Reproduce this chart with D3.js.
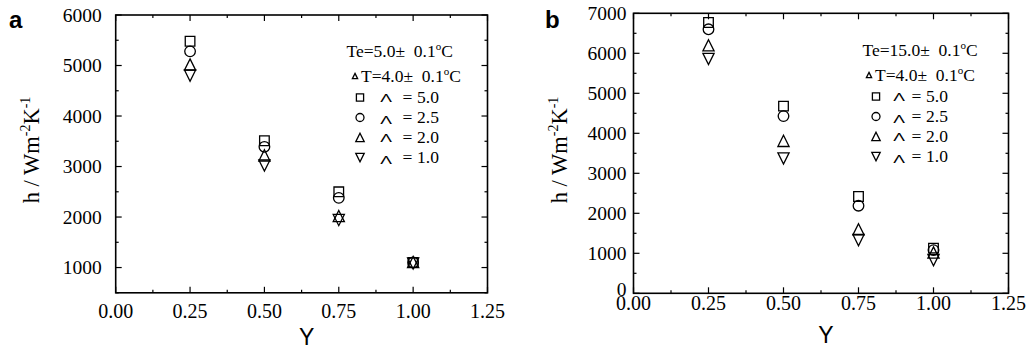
<!DOCTYPE html>
<html>
<head>
<meta charset="utf-8">
<script src="https://cdn.jsdelivr.net/npm/d3@7/dist/d3.min.js"></script>
<style>
  body { margin: 0; background: #fff; }
  svg { display: block; }
</style>
</head>
<body>
<div id="chart"></div>
<script>
// Y values (x axis)
const yPos = [0.25, 0.50, 0.75, 1.00];
const xTicks = [0, 0.25, 0.5, 0.75, 1.0, 1.25];

// panel a : Te = 5.0 C
const aSquare = [5480, 3510, 2500, 1100];
const aCircle = [5280, 3390, 2380, 1100];
const aUp = [5020, 3220, 2020, 1110];
const aDown = [4800, 3020, 1940, 1080];
const aTicks = [1000, 2000, 3000, 4000, 5000, 6000];

// panel b : Te = 15.0 C
const bSquare = [6770, 4680, 2420, 1130];
const bCircle = [6600, 4430, 2190, 1080];
const bUp = [6200, 3810, 1600, 1020];
const bDown = [5860, 3370, 1330, 830];
const bTicks = [0, 1000, 2000, 3000, 4000, 5000, 6000, 7000];

const legendVals = ['5.0', '2.5', '2.0', '1.0'];

const W = 1029, H = 350;
const svg = d3.select('#chart').append('svg')
  .attr('width', W)
  .attr('height', H);

const serif = 'Liberation Serif, Times New Roman, serif';
const sans = 'Liberation Sans, Arial, sans-serif';

function marker(g, type, cx, cy, s) {
  // s = half size
  let p;
  if (type === 'circle') {
    g.append('circle').attr('cx', cx).attr('cy', cy).attr('r', s)
      .attr('fill', 'none').attr('stroke', '#000').attr('stroke-width', 1.3);
    return;
  }
  if (type === 'square') {
    p = `M${cx - s},${cy - s}h${2 * s}v${2 * s}h${-2 * s}Z`;
  } else if (type === 'up') {
    p = `M${cx},${cy - s}L${cx + s},${cy + s}L${cx - s},${cy + s}Z`;
  } else {
    p = `M${cx - s},${cy - s}L${cx + s},${cy - s}L${cx},${cy + s}Z`;
  }
  g.append('path').attr('d', p)
    .attr('fill', 'none').attr('stroke', '#000').attr('stroke-width', 1.3);
}

function drawPanel(cfg) {
  const x = d3.scaleLinear().domain([0, 1.25]).range([cfg.left, cfg.right]);
  const y = d3.scaleLinear().domain(cfg.yDomain).range([cfg.bottom, cfg.top]);
  const g = svg.append('g');

  // frame
  g.append('rect')
    .attr('x', cfg.left).attr('y', cfg.top)
    .attr('width', cfg.right - cfg.left).attr('height', cfg.bottom - cfg.top)
    .attr('fill', 'none').attr('stroke', '#000').attr('stroke-width', 1.6);

  // ticks, inward on all sides
  const xMinor = d3.range(0, 1.25001, 0.125);
  xMinor.forEach((v, i) => {
    const len = i % 2 === 0 ? 6 : 3;
    g.append('line').attr('x1', x(v)).attr('x2', x(v))
      .attr('y1', cfg.bottom).attr('y2', cfg.bottom - len)
      .attr('stroke', '#000').attr('stroke-width', 1.2);
    g.append('line').attr('x1', x(v)).attr('x2', x(v))
      .attr('y1', cfg.top).attr('y2', cfg.top + len)
      .attr('stroke', '#000').attr('stroke-width', 1.2);
  });
  const yMinor = d3.range(cfg.yDomain[0], cfg.yDomain[1] + 1, 500);
  yMinor.forEach(v => {
    const len = v % 1000 === 0 ? 6 : 3;
    g.append('line').attr('x1', cfg.left).attr('x2', cfg.left + len)
      .attr('y1', y(v)).attr('y2', y(v))
      .attr('stroke', '#000').attr('stroke-width', 1.2);
    g.append('line').attr('x1', cfg.right).attr('x2', cfg.right - len)
      .attr('y1', y(v)).attr('y2', y(v))
      .attr('stroke', '#000').attr('stroke-width', 1.2);
  });

  // tick labels
  g.selectAll('.xt').data(xTicks).enter().append('text')
    .attr('x', d => x(d)).attr('y', cfg.xLabelBase)
    .attr('text-anchor', 'middle')
    .style('font-family', serif)
    .style('font-size', '20px')
    .text(d => d3.format('.2f')(d));
  g.selectAll('.yt').data(cfg.yTicks).enter().append('text')
    .attr('x', cfg.left - cfg.yLabelGap).attr('y', d => y(d) - (d === 0 ? 4 : 0))
    .attr('dy', '0.35em')
    .attr('text-anchor', 'end')
    .style('font-family', serif)
    .style('font-size', '19.5px')
    .text(d => d);

  // axis titles
  g.append('text')
    .attr('x', (cfg.left + cfg.right) / 2 + 5).attr('y', cfg.xTitleBase)
    .attr('text-anchor', 'middle')
    .style('font-family', sans)
    .style('font-size', '23px')
    .text('Y');

  const yt = g.append('text')
    .attr('transform', `translate(${cfg.yTitleX},${cfg.yTitleY}) rotate(-90)`)
    .attr('text-anchor', 'middle')
    .style('font-family', serif)
    .style('font-size', '22.5px');
  yt.append('tspan').text('h / Wm');
  yt.append('tspan').attr('dy', -9).style('font-size', '14px').text('-2');
  yt.append('tspan').attr('dy', 9).text('K');
  yt.append('tspan').attr('dy', -9).style('font-size', '14px').text('-1');

  // panel letter
  g.append('text')
    .attr('x', cfg.letterX).attr('y', 27.5)
    .style('font-family', sans)
    .style('font-size', '24px').style('font-weight', 'bold')
    .text(cfg.letter);

  // data points
  const series = [
    { type: 'square', vals: cfg.square, s: 4.8 },
    { type: 'circle', vals: cfg.circle, s: 5.3 },
    { type: 'up', vals: cfg.up, s: 5.6 },
    { type: 'down', vals: cfg.down, s: 5.6 }
  ];
  series.forEach(sr => {
    sr.vals.forEach((v, i) => marker(g, sr.type, x(yPos[i]), y(v), sr.s));
  });

  // legend
  const L = cfg.legend;
  const t1 = g.append('text').attr('x', L.x0).attr('y', L.y0)
    .style('font-family', serif).style('font-size', '17.5px');
  t1.append('tspan').text(cfg.teText + '\u00b1\u00a0\u00a00.1');
  t1.append('tspan').attr('dy', -7).style('font-size', '11px').text('o');
  t1.append('tspan').attr('dy', 7).text('C');

  marker(g, 'up', L.x1, L.y0 + 25 - 6, 2.6);
  const t2 = g.append('text').attr('x', L.x1 + 6).attr('y', L.y0 + 25)
    .style('font-family', serif).style('font-size', '17.5px');
  t2.append('tspan').text('T=4.0\u00b1\u00a0\u00a00.1');
  t2.append('tspan').attr('dy', -7).style('font-size', '11px').text('o');
  t2.append('tspan').attr('dy', 7).text('C');

  const types = ['square', 'circle', 'up', 'down'];
  const sizes = [3.6, 4, 4.2, 4.2];
  legendVals.forEach((v, i) => {
    const by = L.y0 + 46 + i * 20;
    marker(g, types[i], L.xm, by - 5.5, sizes[i]);
    g.append('text')
      .attr('transform', `translate(${L.xw},${by - 1 + (i % 2 === 1 ? 2 : 0)}) scale(1.35,0.85)`)
      .attr('text-anchor', 'middle')
      .style('font-family', sans).style('font-size', '13px')
      .text('\u039b');
    g.append('text').attr('x', L.xe).attr('y', by)
      .attr('text-anchor', 'middle')
      .style('font-family', serif).style('font-size', '17.5px')
      .text('=');
    g.append('text').attr('x', L.xv).attr('y', by)
      .style('font-family', serif).style('font-size', '17.5px')
      .text(v);
  });
}

drawPanel({
  letter: 'a', letterX: 9,
  left: 115.7, right: 487.5, top: 15, bottom: 292.8,
  yDomain: [500, 6000], yTicks: aTicks, yLabelGap: 14,
  xLabelBase: 318, xTitleBase: 345,
  yTitleX: 39, yTitleY: 150,
  square: aSquare, circle: aCircle, up: aUp, down: aDown,
  teText: 'Te=5.0',
  legend: { x0: 346.5, y0: 57, x1: 355, xm: 360, xw: 386, xe: 407.5, xv: 417 }
});

drawPanel({
  letter: 'b', letterX: 545,
  left: 633.5, right: 1008.5, top: 13.3, bottom: 293.3,
  yDomain: [0, 7000], yTicks: bTicks, yLabelGap: 7,
  xLabelBase: 310, xTitleBase: 343,
  yTitleX: 567, yTitleY: 150,
  square: bSquare, circle: bCircle, up: bUp, down: bDown,
  teText: 'Te=15.0',
  legend: { x0: 862.5, y0: 56, x1: 869, xm: 876, xw: 899, xe: 916.5, xv: 926 }
});
</script>
</body>
</html>
